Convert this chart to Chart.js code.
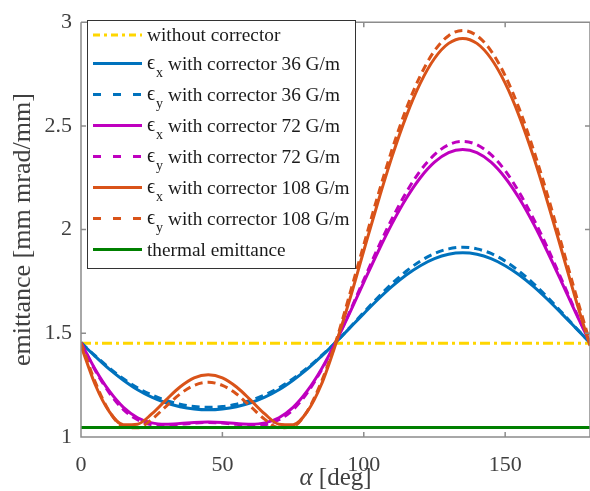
<!DOCTYPE html>
<html>
<head>
<meta charset="utf-8">
<script src="https://cdn.jsdelivr.net/npm/chart.js@4.4.1/dist/chart.umd.min.js"></script>
<style>
  html, body { margin: 0; padding: 0; background: #fff; }
</style>
</head>
<body>
<canvas id="emit" width="590" height="491"></canvas>
<script>
// rotation angle of the corrector [deg]
const alpha = [0, 5, 10, 15, 20, 25, 30, 35, 40, 45, 50, 55, 60, 65, 70, 75, 80, 85, 90,
  95, 100, 105, 110, 115, 120, 125, 130, 135, 140, 145, 150, 155, 160, 165, 170, 175, 180];
const alphaEnds = [0, 180];

// emittance [mm mrad/mm]
const noCorrector = [1.452, 1.452];
const thermal = [1.046, 1.046];
const ex36 = [1.455, 1.389, 1.327, 1.274, 1.228, 1.192, 1.165, 1.146, 1.135, 1.131, 1.135, 1.146, 1.165, 1.192, 1.228, 1.274, 1.327, 1.389, 1.455,
  1.525, 1.595, 1.663, 1.726, 1.781, 1.826, 1.860, 1.881, 1.888, 1.881, 1.860, 1.826, 1.781, 1.726, 1.663, 1.595, 1.525, 1.455];
const ey36 = [1.455, 1.392, 1.333, 1.281, 1.237, 1.203, 1.177, 1.158, 1.147, 1.143, 1.147, 1.158, 1.177, 1.203, 1.237, 1.281, 1.333, 1.392, 1.455,
  1.527, 1.601, 1.673, 1.740, 1.799, 1.848, 1.885, 1.907, 1.915, 1.907, 1.885, 1.848, 1.799, 1.740, 1.673, 1.601, 1.527, 1.455];
const ex72 = [1.455, 1.327, 1.222, 1.143, 1.093, 1.068, 1.062, 1.065, 1.070, 1.072, 1.070, 1.065, 1.062, 1.068, 1.093, 1.143, 1.222, 1.327, 1.455,
  1.597, 1.746, 1.892, 2.029, 2.150, 2.250, 2.325, 2.371, 2.386, 2.371, 2.325, 2.250, 2.150, 2.029, 1.892, 1.746, 1.597, 1.455];
const ey72 = [1.455, 1.322, 1.213, 1.132, 1.083, 1.059, 1.055, 1.061, 1.067, 1.070, 1.067, 1.061, 1.055, 1.059, 1.083, 1.132, 1.213, 1.322, 1.455,
  1.603, 1.758, 1.911, 2.053, 2.179, 2.284, 2.361, 2.409, 2.425, 2.409, 2.361, 2.284, 2.179, 2.053, 1.911, 1.758, 1.603, 1.455];
const ex108 = [1.440, 1.253, 1.122, 1.059, 1.062, 1.111, 1.178, 1.241, 1.285, 1.300, 1.285, 1.241, 1.178, 1.111, 1.062, 1.059, 1.122, 1.253, 1.445,
  1.661, 1.898, 2.132, 2.352, 2.546, 2.706, 2.825, 2.898, 2.922, 2.898, 2.825, 2.706, 2.546, 2.352, 2.132, 1.898, 1.661, 1.440];
const ey108 = [1.455, 1.266, 1.124, 1.050, 1.044, 1.085, 1.147, 1.207, 1.249, 1.264, 1.249, 1.207, 1.147, 1.085, 1.044, 1.050, 1.124, 1.266, 1.455,
  1.687, 1.927, 2.165, 2.386, 2.582, 2.742, 2.862, 2.935, 2.960, 2.935, 2.862, 2.742, 2.582, 2.386, 2.165, 1.927, 1.687, 1.455];

const xTicks = [0, 50, 100, 150];
const yTicks = [1, 1.5, 2, 2.5, 3];

const serif = "'Liberation Serif', 'DejaVu Serif', serif";
const axisColor = '#8c8c8c';
const textColor = '#404040';

function pts(xs, ys) {
  return xs.map((x, i) => ({ x: x, y: ys[i] }));
}

function line(label, sub, xs, ys, color, dash, legendDash) {
  return {
    label: label,
    sub: sub,
    data: pts(xs, ys),
    borderColor: color,
    borderWidth: 3,
    borderDash: dash,
    legendDash: legendDash,
    pointRadius: 0,
    cubicInterpolationMode: 'monotone',
    fill: false,
  };
}

const datasets = [
  line('without corrector', null, alphaEnds, noCorrector, '#FFD600', [10, 4, 3, 4], [7, 4, 3, 4]),
  line('with corrector 36 G/m', 'x', alpha, ex36, '#0072BD', [], []),
  line('with corrector 36 G/m', 'y', alpha, ey36, '#0072BD', [8, 5], [8, 12]),
  line('with corrector 72 G/m', 'x', alpha, ex72, '#BF00BF', [], []),
  line('with corrector 72 G/m', 'y', alpha, ey72, '#BF00BF', [8, 5], [8, 12]),
  line('with corrector 108 G/m', 'x', alpha, ex108, '#D95319', [], []),
  line('with corrector 108 G/m', 'y', alpha, ey108, '#D95319', [8, 5], [8, 12]),
  line('thermal emittance', null, alphaEnds, thermal, '#008000', [], []),
];
// later datasets on top, like the original plot order
datasets.forEach((d, i) => { d.order = datasets.length - i; });

// box with inward ticks on all four sides, and the x axis title
const frame = {
  id: 'frame',
  afterDatasetsDraw(chart) {
    const { ctx, chartArea: a, scales: { x, y } } = chart;
    ctx.save();
    ctx.strokeStyle = axisColor;
    ctx.lineWidth = 1.5;
    ctx.beginPath();
    ctx.moveTo(a.left, a.top); ctx.lineTo(a.left, a.bottom); ctx.lineTo(a.right, a.bottom);
    ctx.moveTo(a.left, a.top); ctx.lineTo(a.right, a.top);
    ctx.moveTo(a.right, a.top); ctx.lineTo(a.right, a.bottom);
    xTicks.forEach(v => {
      const px = x.getPixelForValue(v);
      ctx.moveTo(px, a.bottom); ctx.lineTo(px, a.bottom - 5);
      ctx.moveTo(px, a.top); ctx.lineTo(px, a.top + 5);
    });
    yTicks.forEach(v => {
      const py = y.getPixelForValue(v);
      ctx.moveTo(a.left, py); ctx.lineTo(a.left + 5, py);
      ctx.moveTo(a.right, py); ctx.lineTo(a.right - 5, py);
    });
    ctx.stroke();

    // "α [deg]" with italic alpha
    ctx.fillStyle = textColor;
    ctx.textBaseline = 'alphabetic';
    ctx.font = 'italic 25px ' + serif;
    const wa = ctx.measureText('α').width;
    ctx.font = '25px ' + serif;
    const wb = ctx.measureText(' [deg]').width;
    let tx = (a.left + a.right) / 2 - (wa + wb) / 2;
    ctx.font = 'italic 25px ' + serif;
    ctx.fillText('α', tx, 485);
    ctx.font = '25px ' + serif;
    ctx.fillText(' [deg]', tx + wa, 485);
    ctx.restore();
  }
};

// boxed legend in the upper left, epsilon with subscripts
const boxLegend = {
  id: 'boxLegend',
  afterDraw(chart) {
    const ctx = chart.ctx;
    const x0 = 87, y0 = 20, w = 268, h = 248;
    ctx.save();
    ctx.fillStyle = '#fff';
    ctx.fillRect(x0, y0, w, h);
    ctx.strokeStyle = '#333';
    ctx.lineWidth = 1;
    ctx.strokeRect(x0 + 0.5, y0 + 0.5, w, h);
    chart.data.datasets.forEach((ds, i) => {
      const y = i === 0 ? 35 : 63.5 + (i - 1) * 31;
      ctx.beginPath();
      ctx.setLineDash(ds.legendDash);
      ctx.strokeStyle = ds.borderColor;
      ctx.lineWidth = 3;
      ctx.moveTo(93, y);
      ctx.lineTo(142, y);
      ctx.stroke();
      ctx.setLineDash([]);
      ctx.fillStyle = '#1a1a1a';
      ctx.textBaseline = 'alphabetic';
      let tx = 147;
      if (ds.sub) {
        ctx.font = '20px ' + serif;
        ctx.fillText('ϵ', tx, y + 5);
        ctx.font = '14px ' + serif;
        ctx.fillText(ds.sub, tx + 9, y + 13);
        tx = 168;
      }
      ctx.font = '19.3px ' + serif;
      ctx.fillText(ds.label, tx, y + 6);
    });
    ctx.restore();
  }
};

new Chart(document.getElementById('emit'), {
  type: 'line',
  data: { datasets: datasets },
  options: {
    responsive: false,
    animation: false,
    layout: { padding: { top: 14, right: 0, left: 0, bottom: 0 } },
    plugins: { legend: { display: false }, tooltip: { enabled: false } },
    scales: {
      x: {
        type: 'linear',
        min: 0,
        max: 180,
        grid: { display: false, drawTicks: false },
        border: { display: false },
        afterBuildTicks: s => { s.ticks = xTicks.map(v => ({ value: v })); },
        afterFit: s => { s.height = 54; },
        ticks: { color: textColor, padding: 15, maxRotation: 0, font: { family: serif, size: 22 },
          callback: v => String(v) },
      },
      y: {
        min: 1,
        max: 3,
        grid: { display: false, drawTicks: false },
        border: { display: false },
        afterBuildTicks: s => { s.ticks = yTicks.map(v => ({ value: v })); },
        afterFit: s => { s.width = 81; },
        ticks: { color: textColor, padding: 9, font: { family: serif, size: 22 },
          callback: v => String(v) },
        title: {
          display: true,
          text: 'emittance [mm mrad/mm]',
          color: textColor,
          padding: { top: 8, bottom: 0 },
          font: { family: serif, size: 26 },
        },
      },
    },
  },
  plugins: [frame, boxLegend],
});
</script>
</body>
</html>
